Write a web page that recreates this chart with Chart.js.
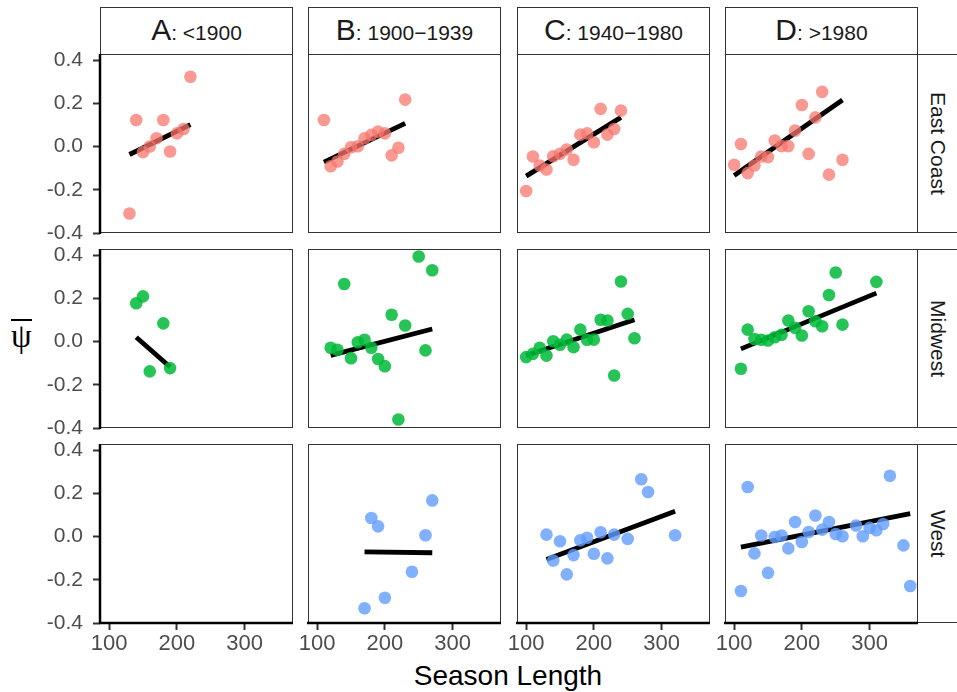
<!DOCTYPE html>
<html>
<head>
<meta charset="utf-8">
<script src="https://cdn.jsdelivr.net/npm/chart.js@4.4.1/dist/chart.umd.min.js"></script>
<style>
  body { margin: 0; background: #fff; overflow: hidden; font-family: 'Liberation Sans', Arial, sans-serif; }
  #wrap { position: relative; width: 957px; height: 692px; overflow: hidden; background: #fff; }
  canvas { position: absolute; }
  .strip { position: absolute; box-sizing: border-box; border: 1px solid #333; background: #fff; color: #1a1a1a; text-align: center; white-space: nowrap; }
  .strip .big { font-size: 30px; }
  .strip .small { font-size: 21px; }
  .side { writing-mode: vertical-rl; font-size: 21px; text-align: center; line-height: 40px; }
  #xtitle { position: absolute; left: 308px; width: 400px; top: 662px; text-align: center; font-size: 28px; line-height: 28px; color: #000; }
  #ytitle { position: absolute; left: 11px; top: 319px; font-family: 'Liberation Serif', 'DejaVu Serif', serif; font-size: 33px; line-height: 30px; color: #000; }
  #ytitle span { display: inline-block; border-top: 2px solid #000; padding-top: 2px; line-height: 26px; }
</style>
</head>
<body>
<div id="wrap">
  <div id="xtitle">Season Length</div>
  <div id="ytitle"><span>ψ</span></div>
</div>
<script>
// facets
const eraLetters = ["A", "B", "C", "D"];
const eraRanges = [": <1900", ": 1900\u22121939", ": 1940\u22121980", ": >1980"];
const regions = ["East Coast", "Midwest", "West"];
const lenTicks = [100, 200, 300];
const psiTicks = [-0.4, -0.2, 0, 0.2, 0.4];

// East Coast
const eastA_len = [130, 140, 150, 160, 170, 180, 190, 200, 210, 220];
const eastA_psi = [-0.31, 0.123, -0.026, 0.0, 0.038, 0.123, -0.023, 0.061, 0.081, 0.323];
const eastA_fit = [-0.037, 0.101];
const eastB_len = [110, 120, 130, 140, 150, 160, 170, 180, 190, 200, 210, 220, 230];
const eastB_psi = [0.123, -0.091, -0.069, -0.034, -0.003, 0.001, 0.038, 0.054, 0.069, 0.061, -0.041, -0.006, 0.217];
const eastB_fit = [-0.072, 0.107];
const eastC_len = [100, 110, 120, 130, 140, 150, 160, 170, 180, 190, 200, 210, 220, 230, 240];
const eastC_psi = [-0.206, -0.046, -0.088, -0.106, -0.045, -0.034, -0.014, -0.061, 0.055, 0.061, 0.02, 0.174, 0.055, 0.081, 0.166];
const eastC_fit = [-0.137, 0.135];
const eastD_len = [100, 110, 120, 130, 140, 150, 160, 170, 180, 190, 200, 210, 220, 230, 240, 260];
const eastD_psi = [-0.084, 0.012, -0.123, -0.088, -0.046, -0.049, 0.028, 0.002, 0.002, 0.074, 0.192, -0.034, 0.135, 0.253, -0.13, -0.061];
const eastD_fit = [-0.134, 0.215];

// Midwest
const midA_len = [140, 150, 160, 180, 190];
const midA_psi = [0.177, 0.209, -0.138, 0.084, -0.123];
const midA_fit = [0.02, -0.118];
const midB_len = [120, 130, 140, 150, 160, 170, 180, 190, 200, 210, 220, 230, 250, 260, 270];
const midB_psi = [-0.029, -0.038, 0.266, -0.077, -0.003, 0.008, -0.029, -0.081, -0.114, 0.124, -0.361, 0.074, 0.393, -0.041, 0.33];
const midB_fit = [-0.064, 0.058];
const midC_len = [100, 110, 120, 130, 140, 150, 160, 170, 180, 190, 200, 210, 220, 230, 240, 250, 260];
const midC_psi = [-0.072, -0.057, -0.029, -0.065, 0.001, -0.015, 0.009, -0.026, 0.055, 0.008, 0.009, 0.101, 0.097, -0.157, 0.278, 0.128, 0.015];
const midC_fit = [-0.065, 0.101];
const midD_len = [110, 120, 130, 140, 150, 160, 170, 180, 190, 200, 210, 220, 230, 240, 250, 260, 310];
const midD_psi = [-0.126, 0.055, 0.012, 0.008, 0.005, 0.02, 0.031, 0.097, 0.063, 0.028, 0.14, 0.094, 0.071, 0.215, 0.319, 0.078, 0.276];
const midD_fit = [-0.034, 0.224];

// West
const westA_len = [];
const westA_psi = [];
const westA_fit = [];
const westB_len = [170, 180, 190, 200, 240, 260, 270];
const westB_psi = [-0.332, 0.086, 0.047, -0.283, -0.163, 0.006, 0.167];
const westB_fit = [-0.071, -0.075];
const westC_len = [130, 140, 150, 160, 170, 180, 190, 200, 210, 220, 230, 250, 270, 280, 320];
const westC_psi = [0.009, -0.111, -0.022, -0.175, -0.086, -0.017, -0.006, -0.08, 0.02, -0.101, 0.009, -0.011, 0.265, 0.206, 0.006];
const westC_fit = [-0.106, 0.117];
const westD_len = [110, 120, 130, 140, 150, 160, 170, 180, 190, 200, 210, 220, 230, 240, 250, 260, 280, 290, 300, 310, 320, 330, 350, 360];
const westD_psi = [-0.252, 0.229, -0.078, 0.005, -0.168, -0.002, 0.005, -0.055, 0.067, -0.025, 0.021, 0.097, 0.032, 0.067, 0.012, 0.001, 0.051, 0.001, 0.04, 0.029, 0.058, 0.281, -0.041, -0.229];
const westD_fit = [-0.049, 0.106];

const panels = [
  [[eastA_len, eastA_psi, eastA_fit], [eastB_len, eastB_psi, eastB_fit], [eastC_len, eastC_psi, eastC_fit], [eastD_len, eastD_psi, eastD_fit]],
  [[midA_len, midA_psi, midA_fit], [midB_len, midB_psi, midB_fit], [midC_len, midC_psi, midC_fit], [midD_len, midD_psi, midD_fit]],
  [[westA_len, westA_psi, westA_fit], [westB_len, westB_psi, westB_fit], [westC_len, westC_psi, westC_fit], [westD_len, westD_psi, westD_fit]]
];
const regionColors = ["rgba(248,118,109,0.75)", "rgba(0,186,56,0.85)", "rgba(97,156,255,0.8)"];

// layout of the facet grid
const colLefts = [100, 308, 517, 725];
const rowTops = [54, 249, 444];
const PW = 193, PH = 179;
const PAD = 30, AXW = 70, AXH = 40;

Chart.defaults.font.family = "'Liberation Sans', Arial, sans-serif";

const panelFrame = {
  id: "panelFrame",
  afterDraw(chart, args, opts) {
    const ctx = chart.ctx, a = chart.chartArea;
    ctx.save();
    ctx.strokeStyle = "#333";
    ctx.lineWidth = 1;
    ctx.strokeRect(Math.round(a.left) + 0.5, Math.round(a.top) + 0.5, Math.round(a.right - a.left) - 1, Math.round(a.bottom - a.top) - 1);
    ctx.strokeStyle = "#000";
    ctx.lineWidth = 2.5;
    ctx.beginPath();
    if (opts.left) { ctx.moveTo(a.left, a.top); ctx.lineTo(a.left, a.bottom + 1); }
    if (opts.bottom) { ctx.moveTo(a.left - 1, a.bottom); ctx.lineTo(a.right, a.bottom); }
    ctx.stroke();
    ctx.restore();
  }
};

const wrap = document.getElementById("wrap");

// strips
eraLetters.forEach((l, c) => {
  const d = document.createElement("div");
  d.className = "strip";
  d.style.left = colLefts[c] + "px";
  d.style.top = "7px";
  d.style.width = PW + "px";
  d.style.height = "48px";
  d.style.lineHeight = "44px";
  d.innerHTML = '<span class="big">' + l + '</span><span class="small"></span>';
  d.querySelector(".small").textContent = eraRanges[c];
  wrap.appendChild(d);
});
regions.forEach((name, r) => {
  const d = document.createElement("div");
  d.className = "strip side";
  d.style.left = (colLefts[3] + PW - 1) + "px";
  d.style.top = rowTops[r] + "px";
  d.style.width = "42px";
  d.style.height = PH + "px";
  d.textContent = name;
  wrap.appendChild(d);
});

panels.forEach((row, r) => {
  row.forEach((p, c) => {
    const [lens, psis, fit] = p;
    const showY = c === 0, showX = r === 2;
    const cv = document.createElement("canvas");
    const w = PW + 2 * PAD + (showY ? AXW : 0);
    const h = PH + 2 * PAD + (showX ? AXH : 0);
    cv.width = w; cv.height = h;
    cv.style.width = w + "px"; cv.style.height = h + "px";
    cv.style.left = (colLefts[c] - PAD - (showY ? AXW : 0)) + "px";
    cv.style.top = (rowTops[r] - PAD) + "px";
    wrap.appendChild(cv);

    const pts = lens.map((v, i) => ({ x: v, y: psis[i] }));
    const fitPts = fit.length ? [{ x: Math.min(...lens), y: fit[0] }, { x: Math.max(...lens), y: fit[1] }] : [];

    new Chart(cv, {
      type: "scatter",
      data: {
        datasets: [
          { data: pts, backgroundColor: regionColors[r], borderWidth: 0, pointRadius: 6.3, pointHoverRadius: 6.3 },
          { type: "line", data: fitPts, borderColor: "#000", borderWidth: 4.8, pointRadius: 0, showLine: true, fill: false }
        ]
      },
      options: {
        responsive: false,
        animation: false,
        events: [],
        layout: { padding: PAD },
        plugins: {
          legend: { display: false },
          tooltip: { enabled: false },
          panelFrame: { left: showY, bottom: showX }
        },
        scales: {
          x: {
            type: "linear", min: 86.5, max: 371.5, display: showX,
            afterBuildTicks: s => { s.ticks = lenTicks.map(v => ({ value: v })); },
            afterFit: s => { s.height = showX ? AXH : 0; },
            grid: { drawOnChartArea: false, drawTicks: true, tickLength: 7, tickWidth: 2, tickColor: "#333" },
            border: { display: false },
            ticks: { color: "#4d4d4d", font: { size: 22 }, padding: 1, maxRotation: 0, callback: v => String(v) }
          },
          y: {
            type: "linear", min: -0.4, max: 0.428, display: showY,
            afterBuildTicks: s => { s.ticks = psiTicks.map(v => ({ value: v })); },
            afterFit: s => { s.width = showY ? AXW : 0; },
            grid: { drawOnChartArea: false, drawTicks: true, tickLength: 7, tickWidth: 2, tickColor: "#333" },
            border: { display: false },
            ticks: { color: "#4d4d4d", font: { size: 21 }, padding: 10, callback: v => v.toFixed(1) }
          }
        }
      },
      plugins: [panelFrame]
    });
  });
});
</script>
</body>
</html>
